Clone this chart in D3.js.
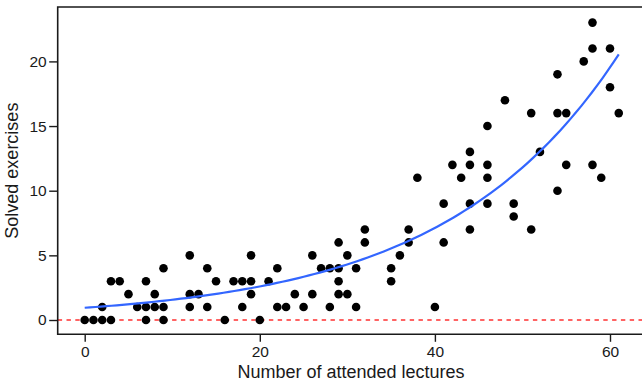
<!DOCTYPE html>
<html>
<head>
<meta charset="utf-8">
<script src="https://cdn.jsdelivr.net/npm/d3@7"></script>
<style>
  html, body { margin: 0; padding: 0; background: #fff; }
  svg { display: block; font-family: "Liberation Sans", Arial, sans-serif; }
</style>
</head>
<body>
<svg id="chart" width="642" height="381"></svg>
<script>
// Lectures attended by each student
const lectures = [
  0, 1, 2, 2, 3, 3, 4, 5, 6, 7, 7, 7, 8, 8, 9, 9, 9,
  12, 12, 12, 13, 14, 14, 15, 16, 17, 18, 18, 19, 19, 19,
  20, 21, 22, 22, 23, 24, 25, 26, 26, 27, 28, 28, 29, 29, 29, 29,
  30, 30, 31, 31, 32, 32, 35, 35, 36, 37, 37, 38,
  40, 41, 41, 42, 43, 44, 44, 44, 44, 46, 46, 46, 46,
  48, 49, 49, 51, 51, 52, 54, 54, 54, 55, 55,
  57, 58, 58, 58, 59, 60, 60, 61
];
// Exercises solved by the same students
const solved = [
  0, 0, 0, 1, 0, 3, 3, 2, 1, 0, 1, 3, 1, 2, 0, 1, 4,
  1, 2, 5, 2, 1, 4, 3, 0, 3, 1, 3, 2, 3, 5,
  0, 3, 1, 4, 1, 2, 1, 2, 5, 4, 1, 4, 2, 3, 4, 6,
  2, 5, 1, 4, 6, 7, 3, 4, 5, 6, 7, 11,
  1, 6, 9, 12, 11, 7, 9, 12, 13, 9, 11, 12, 15,
  17, 8, 9, 7, 16, 13, 10, 16, 19, 12, 16,
  20, 12, 21, 23, 11, 18, 21, 16
];
const xTicks = [0, 20, 40, 60];
const yTicks = [0, 5, 10, 15, 20];
const xTitle = "Number of attended lectures";
const yTitle = "Solved exercises";

const svg = d3.select("#chart");
const W = 642, H = 381;
const plotL = 57.7, plotT = 7, plotB = 334.3, plotR = W;

const x = d3.scaleLinear().domain([0, 60]).range([84.7, 610]);
const y = d3.scaleLinear().domain([0, 20]).range([320, 61.4]);

// Poisson regression (log link) fitted by iteratively reweighted least squares
function poissonFit(xs, ys) {
  let b0 = Math.log(d3.mean(ys) || 1), b1 = 0;
  for (let it = 0; it < 50; it++) {
    let sw = 0, swx = 0, swxx = 0, swz = 0, swxz = 0;
    xs.forEach((xi, i) => {
      const eta = b0 + b1 * xi, mu = Math.exp(eta);
      const z = eta + (ys[i] - mu) / mu, w = mu;
      sw += w; swx += w * xi; swxx += w * xi * xi; swz += w * z; swxz += w * xi * z;
    });
    const det = sw * swxx - swx * swx;
    const n0 = (swxx * swz - swx * swxz) / det;
    const n1 = (sw * swxz - swx * swz) / det;
    const done = Math.abs(n0 - b0) + Math.abs(n1 - b1) < 1e-10;
    b0 = n0; b1 = n1;
    if (done) break;
  }
  return xi => Math.exp(b0 + b1 * xi);
}
const fit = poissonFit(lectures, solved);

// zero reference line
svg.append("line")
  .attr("x1", plotL).attr("x2", plotR)
  .attr("y1", y(0)).attr("y2", y(0))
  .attr("stroke", "#ff3030").attr("stroke-width", 1.3)
  .attr("stroke-dasharray", "4.4,4.4");

// points
svg.append("g").selectAll("circle")
  .data(lectures.map((d, i) => [d, solved[i]]))
  .join("circle")
  .attr("cx", d => x(d[0])).attr("cy", d => y(d[1]))
  .attr("r", 4.3).attr("fill", "#000");

// fitted curve
const [xmin, xmax] = d3.extent(lectures);
const curvePts = d3.range(0, 101).map(k => {
  const xi = xmin + (xmax - xmin) * k / 100;
  return [xi, fit(xi)];
});
svg.append("path")
  .datum(curvePts)
  .attr("fill", "none").attr("stroke", "#3366ff").attr("stroke-width", 2.2)
  .attr("d", d3.line().x(d => x(d[0])).y(d => y(d[1])));

// frame: left, top and bottom edges
const frame = svg.append("g").attr("stroke", "#1a1a1a").attr("stroke-width", 1.6).attr("fill", "none");
frame.append("path").attr("d", `M${plotR},${plotT}H${plotL}V${plotB}H${plotR}`);

// axes
const xAxis = d3.axisBottom(x).tickValues(xTicks).tickSize(7.5).tickPadding(4).tickSizeOuter(0);
const gx = svg.append("g").attr("transform", `translate(0,${plotB})`).call(xAxis);
gx.select(".domain").remove();
gx.selectAll(".tick line").attr("stroke", "#1a1a1a").attr("stroke-width", 1.4);
gx.selectAll(".tick text").attr("font-size", 15.5).attr("fill", "#1a1a1a")
  .attr("font-family", "Liberation Sans, Arial, sans-serif");

const yAxis = d3.axisLeft(y).tickValues(yTicks).tickSize(8.5).tickPadding(2.5).tickSizeOuter(0);
const gy = svg.append("g").attr("transform", `translate(${plotL},0)`).call(yAxis);
gy.select(".domain").remove();
gy.selectAll(".tick line").attr("stroke", "#1a1a1a").attr("stroke-width", 1.4);
gy.selectAll(".tick text").attr("font-size", 15.5).attr("fill", "#1a1a1a")
  .attr("font-family", "Liberation Sans, Arial, sans-serif");

// axis titles
svg.append("text")
  .attr("x", 351).attr("y", 378.3)
  .attr("text-anchor", "middle").attr("font-size", 18).attr("fill", "#1a1a1a")
  .text(xTitle);
svg.append("text")
  .attr("transform", `translate(18.3,${(plotT + plotB) / 2}) rotate(-90)`)
  .attr("text-anchor", "middle").attr("font-size", 18).attr("fill", "#1a1a1a")
  .text(yTitle);
</script>
</body>
</html>
